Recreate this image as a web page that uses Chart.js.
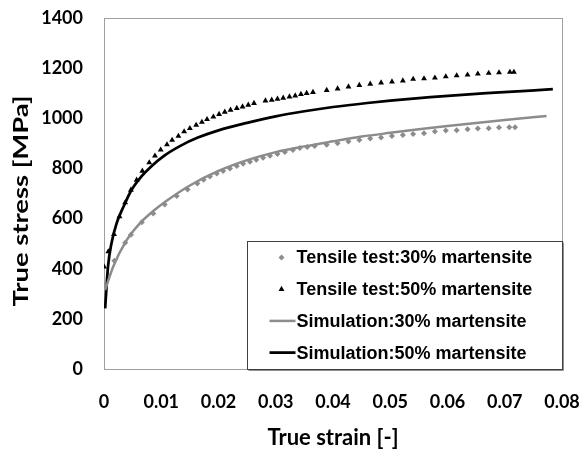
<!DOCTYPE html>
<html>
<head>
<meta charset="utf-8">
<script src="https://cdn.jsdelivr.net/npm/chart.js@4.4.1/dist/chart.umd.min.js"></script>
<style>
  html, body { margin: 0; padding: 0; background: #fff; }
  #wrap { width: 582px; height: 450px; position: relative; }
</style>
</head>
<body>
<div id="wrap"><canvas id="stressChart"></canvas></div>
<script>
// tensile test, 30% martensite (grey diamonds)
const test30Strain = [0, 0.0018, 0.0037, 0.0047, 0.0066, 0.0086, 0.0106, 0.0127, 0.0146, 0.0163,
  0.0174, 0.0185, 0.0197, 0.0208, 0.022, 0.0232, 0.0243, 0.0255, 0.0266, 0.0278,
  0.029, 0.0303, 0.0316, 0.033, 0.0342, 0.0355, 0.0368, 0.0389, 0.0408, 0.0427,
  0.0446, 0.0465, 0.0484, 0.0503, 0.0522, 0.054, 0.0559, 0.0578, 0.0597, 0.0616,
  0.0635, 0.0653, 0.0672, 0.069, 0.0708, 0.0718];
const test30Stress = [333, 432, 504, 535, 585, 620, 656, 690, 716, 740,
  755, 768, 780, 790, 800, 810, 819, 827, 835, 843,
  851, 858, 866, 874, 881, 885, 889, 894, 900, 907,
  913, 919, 923, 929, 933, 937, 940, 947, 951, 952,
  956, 959, 960, 963, 964, 964];

// tensile test, 50% martensite (black triangles)
const test50Strain = [0, 0.00075, 0.00175, 0.0027, 0.0037, 0.0047, 0.0057, 0.0067, 0.0079, 0.0089,
  0.0099, 0.011, 0.0119, 0.013, 0.014, 0.015, 0.0161, 0.0171, 0.018, 0.0191,
  0.0201, 0.0211, 0.0221, 0.0232, 0.0242, 0.0252, 0.0262, 0.0282, 0.0293, 0.0303,
  0.0313, 0.0324, 0.0334, 0.0344, 0.0354, 0.0365, 0.0389, 0.0408, 0.0427, 0.0446,
  0.0465, 0.0484, 0.0503, 0.0522, 0.054, 0.0559, 0.0578, 0.0597, 0.0616, 0.0635,
  0.0653, 0.0672, 0.069, 0.0709, 0.0716];
const test50Stress = [408, 468, 537, 608, 664, 714, 754, 790, 823, 850,
  874, 895, 913, 929, 947, 960, 973, 985, 996, 1006,
  1016, 1025, 1033, 1040, 1046, 1053, 1060, 1070, 1073, 1077,
  1081, 1086, 1090, 1096, 1100, 1104, 1112, 1118, 1126, 1132,
  1137, 1142, 1146, 1150, 1156, 1158, 1161, 1166, 1170, 1173,
  1177, 1180, 1182, 1184, 1184];

// simulation curves
const sim30Strain = [0.0002, 0.0016, 0.0039, 0.0063, 0.0086, 0.011, 0.015, 0.02, 0.025, 0.03,
  0.035, 0.04, 0.045, 0.05, 0.055, 0.06, 0.065, 0.07, 0.0773];
const sim30Stress = [315, 408, 512, 582, 630, 672, 732, 790, 833, 865,
  888, 908, 927, 942, 956, 969, 981, 993, 1009];

const sim50Strain = [0.0002, 0.0007, 0.0013, 0.0022, 0.0034, 0.0048, 0.0065, 0.0082, 0.0106, 0.0135,
  0.0164, 0.02, 0.025, 0.03, 0.035, 0.04, 0.046, 0.05, 0.057, 0.0668, 0.0784];
const sim50Stress = [242, 408, 501, 581, 647, 714, 767, 807, 852, 892,
  923, 952, 982, 1008, 1028, 1045, 1061, 1070, 1084, 1100, 1116];

const seriesNames = [
  'Tensile test:30% martensite',
  'Tensile test:50% martensite',
  'Simulation:30% martensite',
  'Simulation:50% martensite'
];

const xTickLabels = ['0', '0.01', '0.02', '0.03', '0.04', '0.05', '0.06', '0.07', '0.08'];
const yTickLabels = ['0', '200', '400', '600', '800', '1000', '1200', '1400'];
const xTitle = 'True strain [-]';
const yTitle = 'True stress [MPa]';

const grey = '#8c8c8c';
const tickFont = { family: 'Lato', weight: 'bold', size: 18 };

function toPoints(xs, ys) {
  return xs.map((x, i) => ({ x: x, y: ys[i] }));
}

// plot frame, axis titles and the boxed legend inside the plot
const decorations = {
  id: 'decorations',
  beforeDatasetsDraw(chart) {
    const ctx = chart.ctx;
    const a = chart.chartArea;
    ctx.save();
    ctx.strokeStyle = '#a0a0a0';
    ctx.lineWidth = 1;
    ctx.strokeRect(Math.round(a.left) + 0.5, Math.round(a.top) + 0.5,
      Math.round(a.right - a.left), Math.round(a.bottom - a.top));
    ctx.restore();
  },
  afterDatasetsDraw(chart) {
    const ctx = chart.ctx;
    const a = chart.chartArea;
    ctx.save();

    // axis titles
    ctx.fillStyle = '#000';
    ctx.textAlign = 'center';
    ctx.textBaseline = 'middle';
    ctx.font = 'bold 22px Lato';
    ctx.fillText(xTitle, (a.left + a.right) / 2, 438);
    // the y title is stretched along its length, as in the source figure
    ctx.font = 'bold 20px Lato';
    const stretch = 211 / ctx.measureText(yTitle).width;
    ctx.translate(22, 201);
    ctx.rotate(-Math.PI / 2);
    ctx.scale(stretch, 1);
    ctx.fillText(yTitle, 0, 0);
    ctx.setTransform(1, 0, 0, 1, 0, 0);

    // legend box
    const bx = Math.round(a.left) + 143.5;
    const by = Math.round(a.top) + 223.5;
    const bw = Math.round(a.right) - bx + 0.5;
    const bh = Math.round(a.bottom) - by + 0.5;
    ctx.fillStyle = '#fff';
    ctx.fillRect(bx, by, bw, bh);
    ctx.strokeStyle = '#404040';
    ctx.lineWidth = 1;
    ctx.strokeRect(bx, by, bw, bh);
    ctx.strokeStyle = '#909090';
    ctx.beginPath();
    ctx.moveTo(bx + 1, by + bh + 1);
    ctx.lineTo(bx + bw + 1, by + bh + 1);
    ctx.lineTo(bx + bw + 1, by + 1);
    ctx.stroke();

    ctx.font = 'bold 18px "Liberation Sans", Arial';
    ctx.textAlign = 'left';
    ctx.textBaseline = 'middle';
    chart.data.datasets.forEach((ds, i) => {
      const rowY = by + 16 + i * 31.7;
      if (ds.showLine) {
        ctx.strokeStyle = ds.borderColor;
        ctx.lineWidth = ds.borderWidth;
        ctx.beginPath();
        ctx.moveTo(bx + 22, rowY);
        ctx.lineTo(bx + 48, rowY);
        ctx.stroke();
      } else {
        ctx.fillStyle = ds.pointBackgroundColor;
        ctx.strokeStyle = ds.pointBorderColor;
        Chart.helpers.drawPoint(ctx, {
          pointStyle: ds.pointStyle,
          radius: ds.pointRadius,
          rotation: 0,
          borderWidth: 0
        }, bx + 34, rowY);
      }
      ctx.fillStyle = '#000';
      ctx.fillText(ds.label, bx + 49, rowY + 1);
    });
    ctx.restore();
  }
};

const ctx = document.getElementById('stressChart').getContext('2d');

const stressChart = new Chart(ctx, {
  type: 'scatter',
  data: {
    datasets: [
      {
        label: seriesNames[0],
        data: toPoints(test30Strain, test30Stress),
        showLine: false,
        pointStyle: 'rectRot',
        pointRadius: 3,
        pointBackgroundColor: grey,
        pointBorderColor: grey,
        pointBorderWidth: 0
      },
      {
        label: seriesNames[1],
        data: toPoints(test50Strain, test50Stress),
        showLine: false,
        pointStyle: 'triangle',
        pointRadius: 3.4,
        pointBackgroundColor: '#000',
        pointBorderColor: '#000',
        pointBorderWidth: 0
      },
      {
        label: seriesNames[2],
        data: toPoints(sim30Strain, sim30Stress),
        showLine: true,
        borderColor: grey,
        borderWidth: 2.5,
        pointRadius: 0,
        cubicInterpolationMode: 'monotone'
      },
      {
        label: seriesNames[3],
        data: toPoints(sim50Strain, sim50Stress),
        showLine: true,
        borderColor: '#000',
        borderWidth: 2.75,
        pointRadius: 0,
        cubicInterpolationMode: 'monotone'
      }
    ]
  },
  options: {
    responsive: true,
    maintainAspectRatio: false,
    animation: false,
    layout: { padding: { left: 0, top: 18, right: 20, bottom: 0 } },
    plugins: {
      legend: { display: false },
      tooltip: { enabled: false }
    },
    scales: {
      x: {
        type: 'linear',
        min: 0,
        max: 0.08,
        grid: { display: false, drawTicks: false },
        border: { display: false },
        afterFit: (s) => {
          s.height = 81;
          s.paddingLeft = 0;
          s.paddingRight = 0;
        },
        ticks: {
          stepSize: 0.01,
          padding: 22,
          color: '#000',
          font: tickFont,
          maxRotation: 0,
          autoSkip: false,
          callback: (v, i) => xTickLabels[i]
        }
      },
      y: {
        type: 'linear',
        min: 0,
        max: 1400,
        grid: { display: false, drawTicks: false },
        border: { display: false },
        afterFit: (s) => {
          s.width = 104;
          s.paddingTop = 0;
          s.paddingBottom = 0;
        },
        ticks: {
          stepSize: 200,
          padding: 21,
          color: '#000',
          font: tickFont,
          callback: (v, i) => yTickLabels[i]
        }
      }
    }
  },
  plugins: [decorations]
});
</script>
</body>
</html>
